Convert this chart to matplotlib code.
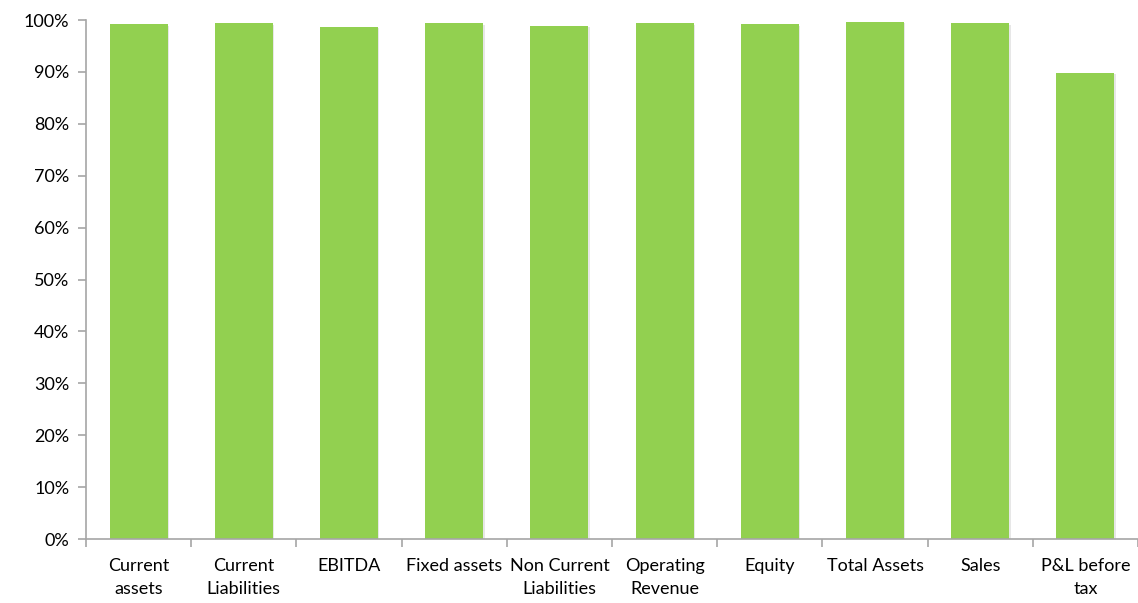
import numpy as np
import matplotlib.pyplot as plt
import matplotlib.patheffects as pe
from matplotlib.ticker import PercentFormatter, FixedLocator

# Share of each item (percent)
categories = ["Current\nassets", "Current\nLiabilities", "EBITDA", "Fixed assets",
              "Non Current\nLiabilities", "Operating\nRevenue", "Equity",
              "Total Assets", "Sales", "P&L before\ntax"]
values = [99.2, 99.4, 98.7, 99.4, 98.9, 99.4, 99.2, 99.6, 99.4, 89.8]

plt.rcParams['font.family'] = ['Lato', 'DejaVu Sans']

fig = plt.figure(figsize=(11.38, 6.03), dpi=100)
ax = fig.add_axes([0.0756, 0.1061, 0.9244, 0.8607])

x = np.arange(len(categories))
bars = ax.bar(x, values, width=0.55, color='#92D050', zorder=2)
for b in bars:
    b.set_path_effects([pe.SimplePatchShadow(offset=(1, -1), shadow_rgbFace='#a0a0a0', alpha=0.25),
                        pe.Normal()])

ax.set_xlim(-0.5, len(categories) - 0.5)
ax.set_ylim(0, 100)
ax.set_yticks(np.arange(0, 101, 10))
ax.yaxis.set_major_formatter(PercentFormatter(decimals=0))

ax.set_xticks(x)
ax.set_xticklabels(categories, fontsize=13, linespacing=1.5)
ax.xaxis.set_minor_locator(FixedLocator(np.arange(-0.5, len(categories), 1.0)))
ax.tick_params(axis='x', which='major', length=0, pad=14)
ax.tick_params(axis='x', which='minor', length=6, color='#A6A6A6', width=1.2)
ax.tick_params(axis='y', length=6, color='#A6A6A6', width=1.2, labelsize=13, pad=6)

for s in ['top', 'right']:
    ax.spines[s].set_visible(False)
for s in ['left', 'bottom']:
    ax.spines[s].set_color('#A6A6A6')
    ax.spines[s].set_linewidth(1.2)

fig.savefig('out.png', dpi=100)
